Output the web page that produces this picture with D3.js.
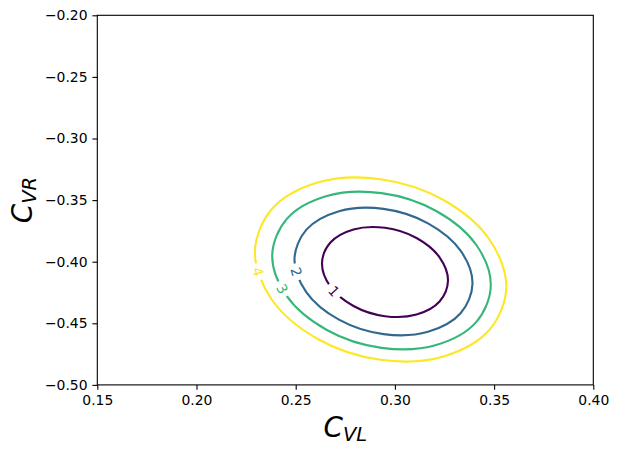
<!DOCTYPE html>
<html>
<head>
<meta charset="utf-8">
<script src="https://cdn.jsdelivr.net/npm/d3@7"></script>
<style>
  body { margin: 0; background: #fff; }
  text { font-family: "DejaVu Sans", sans-serif; }
</style>
</head>
<body>
<script>
// contour levels and the curves (C_VL, C_VR)
const levels = [1, 2, 3, 4];

const contour1 = [
  [0.32676, -0.41530], [0.32251, -0.43230], [0.31089, -0.44289], [0.29501, -0.44422],
  [0.27913, -0.43595], [0.26751, -0.42028], [0.26326, -0.40142], [0.26751, -0.38442],
  [0.27913, -0.37383], [0.29501, -0.37250], [0.31089, -0.38077], [0.32251, -0.39644]
];
const contour2 = [
  [0.33911, -0.41779], [0.33310, -0.44189], [0.31668, -0.45690], [0.29425, -0.45879],
  [0.27182, -0.44706], [0.25540, -0.42485], [0.24939, -0.39811], [0.25540, -0.37401],
  [0.27182, -0.35900], [0.29425, -0.35711], [0.31668, -0.36884], [0.33310, -0.39105]
];
const contour3 = [
  [0.34834, -0.41929], [0.34096, -0.44906], [0.32080, -0.46760], [0.29325, -0.46994],
  [0.26570, -0.45545], [0.24554, -0.42802], [0.23816, -0.39499], [0.24554, -0.36522],
  [0.26570, -0.34668], [0.29325, -0.34434], [0.32080, -0.35883], [0.34096, -0.38626]
];
const contour4 = [
  [0.35615, -0.42052], [0.34766, -0.45527], [0.32447, -0.47692], [0.29279, -0.47965],
  [0.26111, -0.46273], [0.23792, -0.43070], [0.22943, -0.39214], [0.23792, -0.35739],
  [0.26111, -0.33574], [0.29279, -0.33301], [0.32447, -0.34993], [0.34766, -0.38196]
];
const contours = [contour1, contour2, contour3, contour4];

// roughly where each inline label sits (snapped onto its curve below)
const labelPoints = [[0.2700, -0.4226], [0.2518, -0.4076], [0.2446, -0.4208], [0.2325, -0.4076]];

const xTicks = [0.15, 0.20, 0.25, 0.30, 0.35, 0.40];
const yTicks = [-0.50, -0.45, -0.40, -0.35, -0.30, -0.25, -0.20];

const W = 618, H = 454;
const mLeft = 97.3, mTop = 15.3, pw = 496, ph = 369.6;

const svg = d3.select("body").append("svg").attr("width", W).attr("height", H);

const x = d3.scaleLinear().domain([0.15, 0.40]).range([mLeft, mLeft + pw]);
const y = d3.scaleLinear().domain([-0.50, -0.20]).range([mTop + ph, mTop]);
const color = d3.scaleSequential(d3.interpolateViridis).domain([1, 4]);

// Contours
const line = d3.line()
  .x(d => x(d[0]))
  .y(d => y(d[1]))
  .curve(d3.curveCatmullRomClosed.alpha(0.5));

const g = svg.append("g");
const paths = levels.map((lv, i) =>
  g.append("path")
    .attr("d", line(contours[i]))
    .attr("fill", "none")
    .attr("stroke", color(lv))
    .attr("stroke-width", 2.1)
    .node()
);

// Inline labels: snap onto the curve, white gap, rotated number
levels.forEach((lv, i) => {
  const p = paths[i];
  const len = p.getTotalLength();
  const tx = x(labelPoints[i][0]), ty = y(labelPoints[i][1]);
  let bestL = 0, bd = Infinity;
  for (let l = 0; l <= len; l += 0.5) {
    const q = p.getPointAtLength(l);
    const dd = (q.x - tx) ** 2 + (q.y - ty) ** 2;
    if (dd < bd) { bd = dd; bestL = l; }
  }
  const c = p.getPointAtLength(bestL);
  const a = p.getPointAtLength((bestL - 3 + len) % len);
  const b = p.getPointAtLength((bestL + 3) % len);
  let ang = Math.atan2(b.y - a.y, b.x - a.x) * 180 / Math.PI;
  if (ang > 90) ang -= 180;
  if (ang <= -90) ang += 180;

  const lg = svg.append("g").attr("transform", `translate(${c.x},${c.y}) rotate(${ang})`);
  lg.append("rect")
    .attr("x", -8.5).attr("y", -4.5)
    .attr("width", 17).attr("height", 9)
    .attr("fill", "#fff");
  lg.append("text")
    .attr("text-anchor", "middle")
    .attr("dominant-baseline", "central")
    .attr("font-size", 13.9)
    .attr("fill", color(lv))
    .text(lv);
});

// Axes
const fmt = d3.format(".2f");
const xAxis = svg.append("g")
  .attr("transform", `translate(0,${mTop + ph})`)
  .call(d3.axisBottom(x).tickValues(xTicks).tickFormat(fmt).tickSizeOuter(0).tickSize(4.9).tickPadding(4.9));
const yAxis = svg.append("g")
  .attr("transform", `translate(${mLeft},0)`)
  .call(d3.axisLeft(y).tickValues(yTicks).tickFormat(fmt).tickSizeOuter(0).tickSize(4.9).tickPadding(4.9));

[xAxis, yAxis].forEach(ax => {
  ax.select(".domain").remove();
  ax.selectAll("line").attr("stroke", "#000").attr("stroke-width", 1.1);
  ax.selectAll("text")
    .attr("font-family", "DejaVu Sans, sans-serif")
    .attr("font-size", 13.9)
    .attr("fill", "#000");
});

// Frame
svg.append("rect")
  .attr("x", mLeft).attr("y", mTop)
  .attr("width", pw).attr("height", ph)
  .attr("fill", "none")
  .attr("stroke", "#000")
  .attr("stroke-width", 1.1);

// Axis labels (italic with subscript)
function axisLabel(tx, rot, main, sub) {
  const t = svg.append("text")
    .attr("transform", `translate(${tx[0]},${tx[1]}) rotate(${rot})`)
    .attr("text-anchor", "middle")
    .attr("font-size", 27.8)
    .attr("font-style", "italic")
    .attr("fill", "#000");
  t.append("tspan").text(main);
  t.append("tspan").attr("font-size", 19.5).attr("dy", 4.5).text(sub);
}
axisLabel([345.3, 436.5], 0, "C", "VL");
axisLabel([31.5, 200], -90, "C", "VR");
</script>
</body>
</html>
